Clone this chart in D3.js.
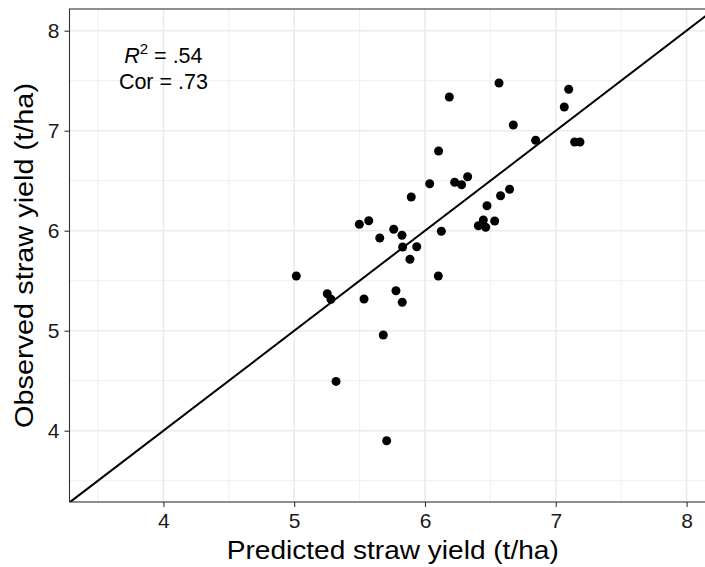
<!DOCTYPE html>
<html>
<head>
<meta charset="utf-8">
<script src="https://cdn.jsdelivr.net/npm/d3@7"></script>
<style>
  body { margin: 0; background: #fff; }
  text { font-family: "Liberation Sans", Arial, sans-serif; }
</style>
</head>
<body>
<script>
const width = 705
const height = 567

// predicho vs observado (t/ha)
const predicted = [6.566, 6.186, 7.065, 7.099, 6.675, 6.846, 6.104, 6.036, 6.227, 6.280,
  6.326, 5.895, 6.647, 6.578, 6.474, 6.446, 6.533, 6.408, 6.464, 6.125,
  5.498, 5.570, 5.654, 5.761, 5.824, 5.829, 5.937, 5.885, 5.016, 5.253,
  5.281, 5.534, 5.778, 5.826, 6.102, 5.681, 5.320, 5.707, 7.144, 7.185]
const observed = [7.477, 7.337, 7.237, 7.414, 7.057, 6.904, 6.797, 6.470, 6.484, 6.460,
  6.540, 6.337, 6.414, 6.350, 6.250, 6.107, 6.097, 6.050, 6.034, 5.994,
  6.064, 6.100, 5.927, 6.014, 5.954, 5.837, 5.840, 5.714, 5.547, 5.370,
  5.314, 5.317, 5.400, 5.284, 5.547, 4.957, 4.493, 3.900, 6.887, 6.887]

const majorTicks = [4, 5, 6, 7, 8]
const minorTicks = [3.5, 4.5, 5.5, 6.5, 7.5]
const stats = [{ label: 'R', sup: '2', value: ' = .54' }, { label: 'Cor', sup: '', value: ' = .73' }]

const x = d3.scaleLinear().domain([3.282, 8.225]).range([69.5, 716])
const y = d3.scaleLinear().domain([3.287, 8.217]).range([502, 9])

const svg = d3.select('body').append('svg').attr('width', width).attr('height', height)

const pLeft = x.range()[0], pRight = x.range()[1]
const pTop = y.range()[1], pBottom = y.range()[0]

// grilla
svg.append('g').selectAll('line').data(minorTicks).join('line')
  .attr('x1', d => x(d)).attr('x2', d => x(d)).attr('y1', pTop).attr('y2', pBottom)
  .attr('stroke', '#ebebeb').attr('stroke-width', 0.8)
svg.append('g').selectAll('line').data(minorTicks).join('line')
  .attr('y1', d => y(d)).attr('y2', d => y(d)).attr('x1', pLeft).attr('x2', pRight)
  .attr('stroke', '#ebebeb').attr('stroke-width', 0.8)
svg.append('g').selectAll('line').data(majorTicks).join('line')
  .attr('x1', d => x(d)).attr('x2', d => x(d)).attr('y1', pTop).attr('y2', pBottom)
  .attr('stroke', '#ebebeb').attr('stroke-width', 1.6)
svg.append('g').selectAll('line').data(majorTicks).join('line')
  .attr('y1', d => y(d)).attr('y2', d => y(d)).attr('x1', pLeft).attr('x2', pRight)
  .attr('stroke', '#ebebeb').attr('stroke-width', 1.6)

// linea 1:1
svg.append('clipPath').attr('id', 'panel')
  .append('rect').attr('x', pLeft).attr('y', pTop).attr('width', pRight - pLeft).attr('height', pBottom - pTop)
svg.append('line')
  .attr('clip-path', 'url(#panel)')
  .attr('x1', x(3.2)).attr('y1', y(3.2))
  .attr('x2', x(8.3)).attr('y2', y(8.3))
  .attr('stroke', '#000').attr('stroke-width', 2)

// puntos
const data = predicted.map((p, i) => ({ p: p, o: observed[i] }))
svg.append('g').selectAll('circle').data(data).join('circle')
  .attr('cx', d => x(d.p)).attr('cy', d => y(d.o)).attr('r', 4.5)
  .attr('fill', '#000')

// borde del panel
svg.append('rect').attr('x', pLeft).attr('y', pTop).attr('width', pRight - pLeft).attr('height', pBottom - pTop)
  .attr('fill', 'none').attr('stroke', '#333').attr('stroke-width', 1.1)

// ejes
const xAxis = svg.append('g').attr('transform', `translate(0,${pBottom})`)
  .call(d3.axisBottom(x).tickValues(majorTicks).tickSize(5).tickPadding(6).tickFormat(d3.format('d')))
const yAxis = svg.append('g').attr('transform', `translate(${pLeft},0)`)
  .call(d3.axisLeft(y).tickValues(majorTicks).tickSize(5).tickPadding(5).tickFormat(d3.format('d')))
;[xAxis, yAxis].forEach(a => {
  a.select('.domain').remove()
  a.selectAll('line').attr('stroke', '#333').attr('stroke-width', 1.1)
  a.selectAll('text').attr('fill', '#1a1a1a').attr('font-size', 21).attr('font-family', '"Liberation Sans", Arial, sans-serif')
})

// titulos
svg.append('text')
  .attr('x', (69.5 + 716) / 2).attr('y', 559)
  .attr('text-anchor', 'middle').attr('font-size', 26).attr('fill', '#000')
  .attr('textLength', 332).attr('lengthAdjust', 'spacingAndGlyphs')
  .text('Predicted straw yield (t/ha)')
svg.append('text')
  .attr('transform', `translate(33,${(pTop + pBottom) / 2}) rotate(-90)`)
  .attr('text-anchor', 'middle').attr('font-size', 26).attr('fill', '#000')
  .attr('textLength', 345).attr('lengthAdjust', 'spacingAndGlyphs')
  .text('Observed straw yield (t/ha)')

// anotacion
const ann = svg.append('g').selectAll('text').data(stats).join('text')
  .attr('x', x(4)).attr('y', (d, i) => 62.7 + i * 26.6)
  .attr('text-anchor', 'middle').attr('font-size', 21.5).attr('fill', '#000')
ann.append('tspan').text(d => d.label).attr('font-style', d => d.sup ? 'italic' : 'normal')
ann.append('tspan').text(d => d.sup).attr('font-size', 15).attr('dy', d => d.sup ? -8.5 : 0)
ann.append('tspan').text(d => d.value).attr('dy', d => d.sup ? 8.5 : 0)
</script>
</body>
</html>
